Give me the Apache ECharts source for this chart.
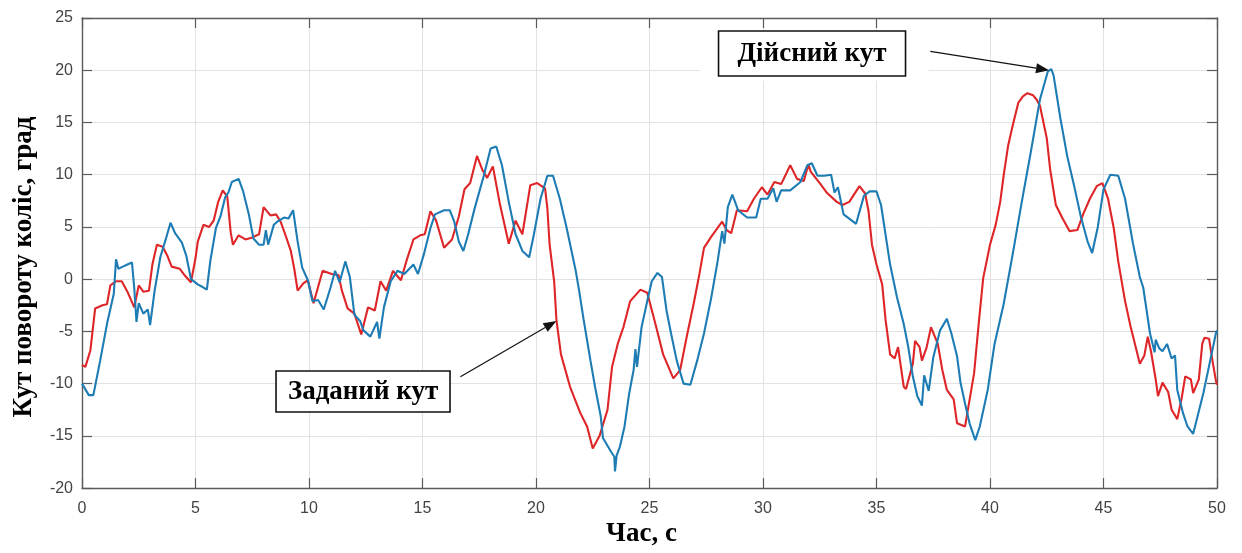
<!DOCTYPE html>
<html>
<head>
<meta charset="utf-8">
<title>Кут повороту коліс</title>
<script src="https://cdn.jsdelivr.net/npm/echarts@6/dist/echarts.min.js"></script>
<style>
  html, body { margin: 0; padding: 0; background: #ffffff; overflow: hidden; }
  #chart { width: 1242px; height: 553px; }
</style>
</head>
<body>
<div id="chart"></div>
<script>
// Заданий кут (reference steering angle), time in s, angle in degrees
const redT = [0, 0.15, 0.37, 0.58, 0.9, 1.1, 1.25, 1.5, 1.75, 2.0, 2.3, 2.5, 2.7, 2.95, 3.1, 3.3, 3.55, 3.75, 3.95, 4.3,
  4.55, 4.8, 5.0, 5.1, 5.35, 5.6, 5.8, 6.0, 6.2, 6.4, 6.55, 6.65, 6.9, 7.2, 7.5, 7.8, 8.0, 8.3, 8.55, 8.75,
  8.95, 9.2, 9.35, 9.5, 9.75, 9.95, 10.2, 10.6, 11.0, 11.3, 11.45, 11.7, 12.0, 12.3, 12.6, 12.9, 13.15, 13.4, 13.7, 14.05,
  14.3, 14.6, 14.9, 15.1, 15.35, 15.6, 15.95, 16.3, 16.6, 16.85, 17.1, 17.4, 17.65, 17.85, 18.1, 18.4, 18.8, 19.1, 19.4, 19.75,
  20.05, 20.4, 20.5, 20.6, 20.8, 20.9, 21.1, 21.5, 21.95, 22.25, 22.5, 22.8, 23.15, 23.35, 23.6, 23.85, 24.15, 24.6, 24.9, 25.25,
  25.6, 26.05, 26.35, 26.65, 26.95, 27.2, 27.4, 27.7, 28.0, 28.2, 28.4, 28.6, 28.85, 29.3, 29.6, 29.95, 30.2, 30.5, 30.8, 31.2,
  31.5, 31.8, 32.0, 32.1, 32.5, 32.8, 33.25, 33.5, 33.8, 34.25, 34.5, 34.65, 34.8, 35.0, 35.25, 35.4, 35.6, 35.8, 35.95, 36.2,
  36.3, 36.6, 36.7, 36.9, 37.0, 37.2, 37.4, 37.7, 37.9, 38.1, 38.4, 38.55, 38.9, 39.05, 39.3, 39.5, 39.7, 40.0, 40.25, 40.45,
  40.6, 40.8, 41.0, 41.25, 41.45, 41.65, 41.9, 42.05, 42.2, 42.5, 42.65, 42.9, 43.2, 43.5, 43.85, 44.1, 44.4, 44.7, 44.95, 45.2,
  45.45, 45.65, 45.95, 46.2, 46.5, 46.6, 46.8, 46.95, 47.1, 47.3, 47.4, 47.6, 47.85, 48.0, 48.25, 48.45, 48.6, 48.85, 48.95, 49.2,
  49.35, 49.45, 49.65, 49.8, 49.95, 50];
const redV = [-8.2, -8.4, -6.8, -2.8, -2.5, -2.4, -0.6, -0.2, -0.2, -1.2, -2.7, -0.6, -1.2, -1.1, 1.4, 3.3, 3.1, 2.3, 1.2, 1.0,
  0.3, -0.3, 2.0, 3.6, 5.2, 5.0, 5.6, 7.4, 8.5, 7.9, 4.5, 3.3, 4.2, 3.8, 4.0, 4.3, 6.9, 6.1, 6.2, 5.5,
  4.3, 2.7, 1.0, -1.1, -0.4, -0.1, -2.3, 0.8, 0.5, 0.4, -1.1, -2.8, -3.3, -5.3, -2.7, -3.0, -0.2, -1.1, 0.8, -0.1,
  1.8, 3.8, 4.2, 4.3, 6.5, 5.6, 3.0, 3.8, 6.0, 8.6, 9.2, 11.8, 10.4, 9.7, 10.8, 7.3, 3.4, 5.6, 4.3, 9.0,
  9.2, 8.7, 6.8, 3.3, -0.2, -3.9, -7.2, -10.3, -12.8, -14.1, -16.2, -15.0, -12.5, -8.4, -6.2, -4.6, -2.1, -1.0, -1.3, -4.2,
  -7.2, -9.5, -8.7, -5.4, -2.3, 0.5, 3.0, 4.0, 4.9, 5.5, 4.7, 4.4, 6.6, 6.5, 7.7, 8.8, 8.1, 9.3, 9.1, 10.9,
  9.6, 9.4, 11.0, 10.3, 9.2, 8.3, 7.4, 7.1, 7.4, 8.9, 8.2, 6.5, 3.3, 1.4, -0.5, -3.9, -7.2, -7.6, -6.5, -10.3,
  -10.5, -8.1, -5.9, -6.5, -7.8, -6.6, -4.6, -6.2, -8.7, -10.6, -11.5, -13.8, -14.1, -12.2, -9.0, -4.3, 0.1, 3.3, 5.2, 7.4,
  9.9, 12.8, 14.7, 16.9, 17.5, 17.8, 17.6, 17.2, 16.6, 13.5, 10.5, 7.1, 5.8, 4.6, 4.7, 6.2, 7.7, 8.9, 9.2, 7.7,
  4.9, 1.7, -2.1, -4.6, -7.2, -8.1, -7.3, -5.5, -7.0, -9.6, -11.2, -9.9, -10.8, -12.5, -13.4, -11.3, -9.3, -9.6, -10.9, -9.6,
  -6.2, -5.6, -5.7, -7.8, -9.7, -10.1];

// Дійсний кут (actual steering angle)
const blueT = [0, 0.3, 0.5, 0.8, 1.1, 1.4, 1.5, 1.6, 1.8, 2.0, 2.2, 2.3, 2.4, 2.5, 2.7, 2.9, 3.0, 3.2, 3.45, 3.7,
  3.9, 4.1, 4.4, 4.6, 4.8, 5.1, 5.35, 5.5, 5.65, 5.9, 6.1, 6.3, 6.45, 6.6, 6.9, 7.1, 7.35, 7.55, 7.8, 8.0,
  8.1, 8.2, 8.45, 8.6, 8.9, 9.1, 9.3, 9.5, 9.7, 9.95, 10.15, 10.4, 10.65, 10.95, 11.15, 11.35, 11.6, 11.8, 12.0, 12.25,
  12.4, 12.7, 13.0, 13.1, 13.3, 13.6, 13.9, 14.2, 14.6, 14.8, 15.05, 15.35, 15.55, 15.95, 16.2, 16.4, 16.6, 16.8, 17.0, 17.3,
  17.7, 18.0, 18.25, 18.5, 18.8, 19.1, 19.4, 19.7, 19.9, 20.2, 20.5, 20.75, 21.05, 21.35, 21.75, 21.9, 22.1, 22.4, 22.6, 22.85,
  22.95, 23.3, 23.45, 23.48, 23.55, 23.7, 23.9, 24.1, 24.3, 24.38, 24.45, 24.65, 24.9, 25.1, 25.35, 25.55, 25.75, 25.95, 26.2, 26.5,
  26.8, 27.1, 27.4, 27.7, 28.0, 28.2, 28.3, 28.45, 28.65, 28.9, 29.3, 29.7, 29.9, 30.2, 30.45, 30.6, 30.8, 31.2, 31.65, 31.95,
  32.15, 32.4, 32.7, 33.0, 33.15, 33.3, 33.55, 33.8, 34.1, 34.45, 34.7, 35.0, 35.2, 35.6, 35.9, 36.2, 36.4, 36.6, 36.8, 37.0,
  37.1, 37.3, 37.5, 37.8, 38.1, 38.3, 38.55, 38.7, 38.9, 39.1, 39.35, 39.55, 39.9, 40.2, 40.6, 41.0, 41.4, 41.8, 42.0, 42.2,
  42.55, 42.7, 42.8, 43.1, 43.4, 43.7, 44.0, 44.3, 44.5, 44.75, 45.0, 45.3, 45.65, 45.95, 46.3, 46.6, 46.75, 47.05, 47.25, 47.3,
  47.45, 47.6, 47.8, 48.0, 48.15, 48.25, 48.5, 48.7, 48.95, 49.1, 49.4, 49.7, 49.95, 50];
const blueV = [-10.0, -11.1, -11.1, -7.8, -4.3, -1.4, 1.9, 1.0, 1.2, 1.4, 1.6, -0.8, -4.1, -2.3, -3.3, -2.9, -4.4, -1.1, 2.1, 3.9,
  5.4, 4.4, 3.5, 2.2, 0.0, -0.5, -0.8, -1.0, 1.7, 4.9, 6.0, 7.8, 8.3, 9.3, 9.6, 8.4, 6.2, 3.9, 3.3, 3.3,
  4.7, 3.3, 5.2, 5.5, 5.9, 5.8, 6.6, 3.6, 1.1, -0.1, -2.1, -2.0, -2.9, -0.8, 0.8, -0.3, 1.7, 0.2, -3.4, -4.0,
  -4.9, -5.5, -4.1, -5.7, -2.7, -0.2, 0.8, 0.5, 1.4, 0.5, 2.3, 4.9, 6.2, 6.6, 6.6, 5.5, 3.6, 2.7, 4.2, 6.8,
  9.9, 12.5, 12.7, 10.9, 7.4, 4.3, 2.7, 2.1, 4.2, 7.7, 9.9, 9.9, 7.7, 4.9, 0.8, -1.1, -3.9, -7.8, -10.3, -13.1,
  -15.2, -16.5, -17.0, -18.4, -16.9, -16.0, -14.1, -11.0, -8.7, -6.7, -8.4, -4.6, -2.1, -0.2, 0.6, 0.2, -3.0, -5.2, -7.8, -10.0,
  -10.1, -7.8, -5.2, -2.0, 1.7, 4.6, 3.4, 6.9, 8.1, 6.6, 5.9, 5.9, 7.7, 7.7, 8.7, 7.4, 8.5, 8.5, 9.3, 10.9,
  11.1, 9.9, 9.9, 10.0, 8.3, 8.8, 6.2, 5.8, 5.3, 8.0, 8.4, 8.4, 7.1, 1.4, -1.7, -4.3, -6.5, -9.3, -11.2, -12.1,
  -9.2, -10.7, -7.5, -4.9, -3.8, -5.2, -7.4, -9.9, -11.9, -13.8, -15.4, -14.1, -10.6, -6.2, -2.4, 2.4, 7.4, 12.2, 14.7, 17.2,
  19.9, 20.1, 19.5, 15.4, 11.8, 9.0, 6.0, 3.6, 2.5, 5.0, 8.6, 10.0, 9.9, 7.7, 3.4, 0.2, -0.8, -5.2, -7.0, -5.8,
  -6.6, -6.9, -6.2, -7.6, -7.3, -10.6, -12.8, -14.1, -14.8, -13.5, -10.9, -7.8, -5.2, -4.9];

const xTicks = { min: 0, max: 50, step: 5 };
const yTicks = { min: -20, max: 25, step: 5 };

const xName = 'Час, с';
const yName = 'Кут повороту коліс, град';
const setLabel = 'Заданий кут';
const actLabel = 'Дійсний кут';

const pairs = (ts, vs) => ts.map((t, i) => [t, vs[i]]);

const axisColor = '#5a5a5a';
const serif = '"Liberation Serif", "Times New Roman", serif';
const tickFont = { color: '#444444', fontSize: 16, fontFamily: 'Liberation Sans, Arial, sans-serif' };
const nameFont = { color: '#000000', fontSize: 27, fontWeight: 'bold', fontFamily: serif };

const chart = echarts.init(document.getElementById('chart'), null, { renderer: 'canvas' });

const frameAxis = (extra) => Object.assign({
  type: 'value',
  axisLine: { show: true, onZero: false, lineStyle: { color: axisColor, width: 1.4 } },
  axisTick: { show: true, inside: true, length: 10, lineStyle: { color: axisColor, width: 1.2 } },
  axisLabel: { show: false },
  splitLine: { show: false }
}, extra);

chart.setOption({
  animation: false,
  backgroundColor: '#ffffff',
  grid: { left: 82, right: 25, top: 18, bottom: 61, containLabel: false },
  xAxis: [
    frameAxis({
      position: 'bottom',
      min: xTicks.min, max: xTicks.max, interval: xTicks.step,
      axisLabel: Object.assign({ show: true, margin: 12 }, tickFont),
      splitLine: { show: true, lineStyle: { color: '#e2e2e2', width: 1 } },
      name: xName, nameLocation: 'middle', nameGap: 31,
      nameTextStyle: Object.assign({ padding: [0, 16, 0, 0] }, nameFont)
    }),
    frameAxis({ position: 'top', min: xTicks.min, max: xTicks.max, interval: xTicks.step })
  ],
  yAxis: [
    frameAxis({
      position: 'left',
      min: yTicks.min, max: yTicks.max, interval: yTicks.step,
      axisLabel: Object.assign({ show: true, margin: 9 }, tickFont),
      splitLine: { show: true, lineStyle: { color: '#e2e2e2', width: 1 } },
      name: yName, nameLocation: 'middle', nameGap: 44, nameRotate: 90,
      nameTextStyle: Object.assign({ padding: [0, 28, 0, 0] }, nameFont)
    }),
    frameAxis({ position: 'right', min: yTicks.min, max: yTicks.max, interval: yTicks.step })
  ],
  series: [
    {
      name: setLabel, type: 'line', xAxisIndex: 0, yAxisIndex: 0,
      data: pairs(redT, redV), showSymbol: false, symbol: 'none',
      lineStyle: { color: '#de2528', width: 2.1 }, z: 3
    },
    {
      name: actLabel, type: 'line', xAxisIndex: 0, yAxisIndex: 0,
      data: pairs(blueT, blueV), showSymbol: false, symbol: 'none',
      lineStyle: { color: '#1d7cb4', width: 2.1 }, z: 4
    }
  ]
});

// Callout boxes with arrows pointing at the curves
function toPx(t, v) {
  return chart.convertToPixel({ xAxisIndex: 0, yAxisIndex: 0 }, [t, v]);
}

function arrow(from, to) {
  const dx = to[0] - from[0], dy = to[1] - from[1];
  const len = Math.hypot(dx, dy);
  const ux = dx / len, uy = dy / len;
  const hl = 13, hw = 5;
  const bx = to[0] - ux * hl, by = to[1] - uy * hl;
  return [
    { type: 'line', z: 20, shape: { x1: from[0], y1: from[1], x2: bx, y2: by },
      style: { stroke: '#111111', lineWidth: 1.2 } },
    { type: 'polygon', z: 20,
      shape: { points: [to, [bx - uy * hw, by + ux * hw], [bx + uy * hw, by - ux * hw]] },
      style: { fill: '#111111' } }
  ];
}

function box(cx, cy, w, h, text) {
  return [
    { type: 'rect', z: 22, shape: { x: cx - w / 2, y: cy - h / 2, width: w, height: h },
      style: { fill: '#ffffff', stroke: '#111111', lineWidth: 1.6 } },
    { type: 'text', z: 23, x: cx, y: cy + 1,
      style: { text: text, fill: '#000000', align: 'center', verticalAlign: 'middle',
        font: 'bold 27px ' + serif } }
  ];
}

function drawNotes() {
  const actBox = toPx(32.16, 21.6);
  const setBox = toPx(12.38, -10.75);
  const actTail = toPx(37.37, 21.8);
  const actTip = toPx(42.6, 20.0);
  const setTail = toPx(16.67, -9.35);
  const setTip = toPx(20.9, -4.0);
  const clearA = toPx(27.2, 23.8);
  const clearB = toPx(37.3, 19.0);
  chart.setOption({
    graphic: [
      { type: 'rect', z: 19,
        shape: { x: clearA[0], y: clearA[1], width: clearB[0] - clearA[0], height: clearB[1] - clearA[1] },
        style: { fill: '#ffffff' } },
      ...box(actBox[0], actBox[1], 187, 45, actLabel),
      ...box(setBox[0], setBox[1], 174, 41, setLabel),
      ...arrow(actTail, actTip),
      ...arrow(setTail, setTip)
    ]
  });
}
drawNotes();
</script>
</body>
</html>
